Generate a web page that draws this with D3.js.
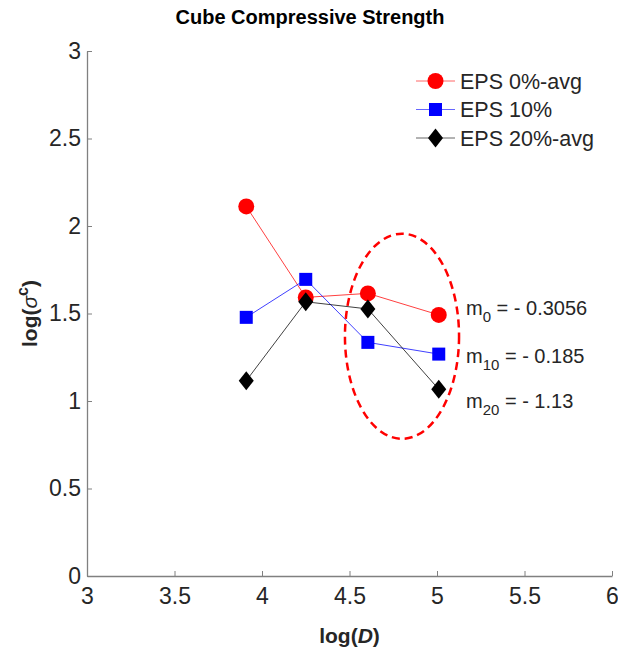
<!DOCTYPE html>
<html>
<head>
<meta charset="utf-8">
<script src="https://cdn.jsdelivr.net/npm/d3@7"></script>
<style>
  body { margin: 0; background: #fff; }
  svg { font-family: Arial, "Liberation Sans", Helvetica, sans-serif; }
</style>
</head>
<body>
<div id="chart"></div>
<script>
// values
const logD = [3.91, 4.25, 4.605, 5.01];
const eps0 = [2.112, 1.592, 1.615, 1.492];
const eps10 = [1.478, 1.695, 1.335, 1.268];
const eps20 = [1.116, 1.567, 1.526, 1.067];
const seriesNames = ['EPS 0%-avg', 'EPS 10%', 'EPS 20%-avg'];
const slopeSubs = ['0', '10', '20'];
const slopeVals = ['= - 0.3056', '= - 0.185', '= - 1.13'];
const slopeY = [1.49, 1.22, 0.96];
const xTicks = [3, 3.5, 4, 4.5, 5, 5.5, 6];
const yTicks = [0, 0.5, 1, 1.5, 2, 2.5, 3];
// highlighted region (ellipse centre and radii in data units)
const ring = {cx: 4.8, cy: 1.37, rx: 0.326, ry: 0.586};

const width = 618, height = 655;
const margin = {top: 51, right: 6, bottom: 79, left: 87};

const x = d3.scaleLinear().domain([3, 6]).range([margin.left, width - margin.right]);
const y = d3.scaleLinear().domain([0, 3]).range([height - margin.bottom, margin.top]);

const svg = d3.select('#chart').append('svg')
  .attr('width', width)
  .attr('height', height);

const axisColor = '#808080', textColor = '#262626';

// axes, ticks pointing inward like matlab
const gx = svg.append('g')
  .attr('transform', `translate(0,${y(0)})`)
  .call(d3.axisBottom(x).tickValues(xTicks).tickSizeInner(-5).tickSizeOuter(0).tickPadding(12).tickFormat(d3.format('')));
const gy = svg.append('g')
  .attr('transform', `translate(${x(3)},0)`)
  .call(d3.axisLeft(y).tickValues(yTicks).tickSizeInner(-5).tickSizeOuter(0).tickPadding(6).tickFormat(d3.format('')));
[gx, gy].forEach(g => {
  g.select('.domain').attr('stroke', axisColor).attr('stroke-width', 1.3);
  g.selectAll('.tick line').attr('stroke', axisColor);
  g.selectAll('.tick text').attr('fill', textColor).style('font-size', '23px');
});

svg.append('text')
  .attr('x', 310).attr('y', 24)
  .attr('text-anchor', 'middle')
  .style('font-size', '20px').style('font-weight', 'bold')
  .attr('fill', '#000')
  .text('Cube Compressive Strength');

const xl = svg.append('text')
  .attr('x', (x(3) + x(6)) / 2).attr('y', 643)
  .attr('text-anchor', 'middle')
  .style('font-size', '21px').style('font-weight', 'bold')
  .attr('fill', textColor);
xl.append('tspan').text('log(');
xl.append('tspan').style('font-style', 'italic').text('D');
xl.append('tspan').text(')');

const yl = svg.append('text')
  .attr('transform', `translate(37,${(y(0) + y(3)) / 2}) rotate(-90)`)
  .attr('text-anchor', 'middle')
  .style('font-size', '21px').style('font-weight', 'bold')
  .attr('fill', textColor);
yl.append('tspan').text('log(');
yl.append('tspan').style('font-weight', 'normal').style('font-style', 'italic').text('σ');
yl.append('tspan').attr('dy', -9).style('font-size', '16px').text('c');
yl.append('tspan').attr('dy', 9).text(')');

const series = [
  {name: seriesNames[0], values: eps0, color: '#ff0000', shape: 'circle'},
  {name: seriesNames[1], values: eps10, color: '#0000ff', shape: 'square'},
  {name: seriesNames[2], values: eps20, color: '#000000', shape: 'diamond'}
];

const marker = (g, s, cx, cy) => {
  if (s.shape === 'circle') {
    g.append('circle').attr('cx', cx).attr('cy', cy).attr('r', 8).attr('fill', s.color);
  } else if (s.shape === 'square') {
    g.append('rect').attr('x', cx - 6.5).attr('y', cy - 6.5).attr('width', 13).attr('height', 13).attr('fill', s.color);
  } else {
    g.append('path').attr('d', `M${cx},${cy - 9.5}L${cx + 7.5},${cy}L${cx},${cy + 9.5}L${cx - 7.5},${cy}Z`).attr('fill', s.color);
  }
};

const line = d3.line().x((d, i) => x(logD[i])).y(d => y(d));

series.forEach(s => {
  const g = svg.append('g');
  g.append('path').attr('d', line(s.values))
    .attr('fill', 'none').attr('stroke', s.color).attr('stroke-width', 1).attr('stroke-opacity', 0.75);
  s.values.forEach((v, i) => marker(g, s, x(logD[i]), y(v)));
});

// legend (no box)
const legend = svg.append('g');
series.forEach((s, i) => {
  const ly = 81 + i * 28.5;
  legend.append('line').attr('x1', 416).attr('x2', 455).attr('y1', ly).attr('y2', ly)
    .attr('stroke', s.color).attr('stroke-opacity', 0.6);
  marker(legend, s, 435.5, ly);
  legend.append('text').attr('x', 460).attr('y', ly + 7.5)
    .style('font-size', '21.5px').attr('fill', textColor).text(s.name);
});

// slope notes
slopeSubs.forEach((sub, i) => {
  const t = svg.append('text').attr('x', 466).attr('y', y(slopeY[i]))
    .style('font-size', '20px').attr('fill', textColor);
  t.append('tspan').text('m');
  t.append('tspan').attr('dy', 7).style('font-size', '15px').text(sub);
  t.append('tspan').attr('dy', -7).text(' ' + slopeVals[i]);
});

// dashed ring round the larger sizes
svg.append('ellipse')
  .attr('cx', x(ring.cx)).attr('cy', y(ring.cy))
  .attr('rx', x(ring.cx + ring.rx) - x(ring.cx))
  .attr('ry', y(ring.cy) - y(ring.cy + ring.ry))
  .attr('fill', 'none').attr('stroke', '#ff0000').attr('stroke-width', 2.5)
  .attr('stroke-dasharray', '8,5');
</script>
</body>
</html>
